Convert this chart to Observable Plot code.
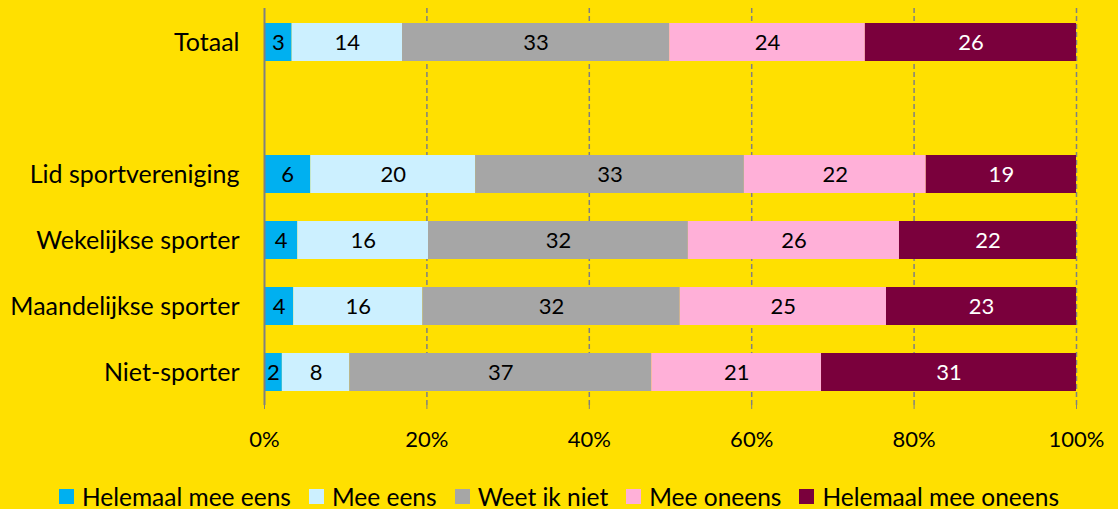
<!DOCTYPE html>
<html>
<head>
<meta charset="utf-8">
<script src="https://cdn.jsdelivr.net/npm/d3@7"></script>
<script src="https://cdn.jsdelivr.net/npm/@observablehq/plot@0.6"></script>
<style>
  html, body { margin: 0; padding: 0; background: #FFE000; overflow: hidden; }
  #chart svg { display: block; }
  .legend { display: flex; justify-content: center; align-items: center; margin-top: 12px; height: 28px;
    font-family: Lato, "Open Sans", sans-serif; font-size: 24.5px; color: #000; }
  .legend .item { display: flex; align-items: center; margin: 0 9px; }
  .legend .sw { width: 15px; height: 15px; margin-right: 8px; }
</style>
</head>
<body>
<div id="chart"></div>
<div class="legend" id="legend"></div>
<script>
const categories = ["Totaal", " ", "Lid sportvereniging", "Wekelijkse sporter", "Maandelijkse sporter", "Niet-sporter"];
const rows = ["Totaal", "Lid sportvereniging", "Wekelijkse sporter", "Maandelijkse sporter", "Niet-sporter"];
const series = ["Helemaal mee eens", "Mee eens", "Weet ik niet", "Mee oneens", "Helemaal mee oneens"];
const helemaalMeeEens   = [3.4, 5.7, 4.1, 3.6, 2.2];
const meeEens           = [13.6, 20.3, 16.1, 15.9, 8.3];
const weetIkNiet        = [32.9, 33.1, 32.0, 31.7, 37.2];
const meeOneens         = [24.1, 22.4, 26.0, 25.4, 20.9];
const helemaalMeeOneens = [26.0, 18.5, 21.8, 23.4, 31.4];
const xTicks = [0, 20, 40, 60, 80, 100];
const colors = ["#00B0F0", "#CCF0FF", "#A6A6A6", "#FFB0D8", "#7A003C"];

const seriesValues = [helemaalMeeEens, meeEens, weetIkNiet, meeOneens, helemaalMeeOneens];
const data = [];
series.forEach((s, si) => rows.forEach((r, ri) => data.push({cat: r, series: s, value: seriesValues[si][ri]})));

const font = "Lato, 'Open Sans', sans-serif";

const chart = Plot.plot({
  width: 1118,
  height: 470,
  marginLeft: 264,
  marginRight: 42,
  marginTop: 8,
  marginBottom: 65,
  style: {background: "transparent", fontFamily: font, fontSize: "22px", color: "#000"},
  x: {domain: [0, 100], ticks: xTicks, tickFormat: d => d + "%", label: null},
  y: {domain: categories, paddingInner: 0.43, paddingOuter: 0.215, label: null},
  color: {domain: series, range: colors},
  marks: [
    Plot.ruleX(xTicks.slice(1), {stroke: "#808080", strokeWidth: 1.5, strokeDasharray: "5,3"}),
    Plot.barX(data, Plot.stackX({x: "value", y: "cat", fill: "series", z: "series"})),
    Plot.text(data, Plot.stackX({x: "value", y: "cat", z: "series",
      text: d => String(Math.round(d.value)),
      fill: d => d.series === "Helemaal mee oneens" ? "#fff" : "#000",
      fontSize: 22})),
    Plot.ruleX([0], {stroke: "#808080", strokeWidth: 2}),
    Plot.axisX({ticks: xTicks, tickFormat: d => d + "%", tickSize: 4, tickPadding: 22, stroke: "#808080", fontSize: 22, label: null}),
    Plot.axisY({tickSize: 0, tickPadding: 25, fontSize: 25, label: null})
  ]
});
document.getElementById("chart").appendChild(chart);

const legend = document.getElementById("legend");
series.forEach((s, i) => {
  const item = document.createElement("div");
  item.className = "item";
  const sw = document.createElement("div");
  sw.className = "sw";
  sw.style.background = colors[i];
  const t = document.createElement("span");
  t.textContent = s;
  item.appendChild(sw);
  item.appendChild(t);
  legend.appendChild(item);
});
</script>
</body>
</html>
